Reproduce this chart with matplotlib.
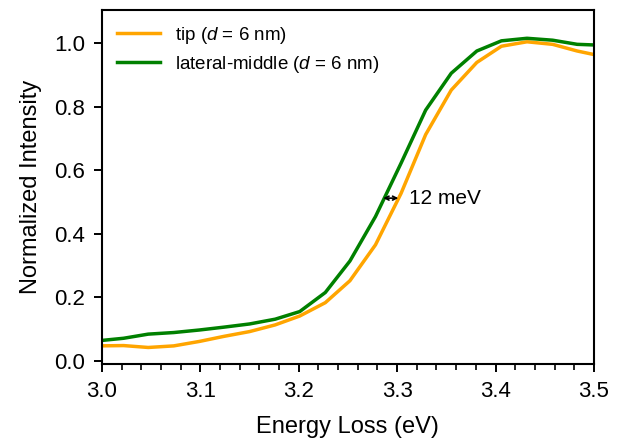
import matplotlib
matplotlib.use("Agg")
import matplotlib.pyplot as plt
from matplotlib.ticker import MultipleLocator

plt.rcParams['font.family'] = ['Liberation Sans', 'DejaVu Sans']
plt.rcParams['mathtext.fontset'] = 'custom'
plt.rcParams['mathtext.it'] = 'Liberation Sans:italic'
plt.rcParams['mathtext.rm'] = 'Liberation Sans'

energy = [2.996, 3.022, 3.047, 3.073, 3.099, 3.124, 3.150, 3.176, 3.201, 3.227, 3.252,
          3.278, 3.304, 3.329, 3.355, 3.381, 3.406, 3.432, 3.458, 3.483, 3.509]
tip = [0.047, 0.048, 0.042, 0.047, 0.061, 0.077, 0.092, 0.113, 0.141, 0.183, 0.252,
       0.365, 0.527, 0.712, 0.852, 0.939, 0.990, 1.004, 0.996, 0.975, 0.958]
lateral = [0.063, 0.071, 0.084, 0.089, 0.097, 0.106, 0.116, 0.131, 0.155, 0.215, 0.314,
           0.454, 0.622, 0.789, 0.905, 0.975, 1.007, 1.015, 1.009, 0.996, 0.993]

fig = plt.figure(figsize=(6.18, 4.41), dpi=100)
ax = fig.add_axes([0.165, 0.1746, 0.796, 0.8027])
ax.plot(energy, tip, color='#FFA500', lw=2.5, label=r'tip ($d$ = 6 nm)')
ax.plot(energy, lateral, color='#008000', lw=2.5, label=r'lateral-middle ($d$ = 6 nm)')

ax.annotate('', xy=(3.2859, 0.512), xytext=(3.3012, 0.512),
            arrowprops=dict(arrowstyle='<->', color='black', lw=1.2,
                            shrinkA=0, shrinkB=0, mutation_scale=7))
ax.text(3.3125, 0.512, '12 meV', fontsize=15, va='center', ha='left')

ax.set_xlim(3.0, 3.5)
ax.set_ylim(-0.01, 1.104)
ax.xaxis.set_major_locator(MultipleLocator(0.1))
ax.xaxis.set_minor_locator(MultipleLocator(0.02))
ax.yaxis.set_major_locator(MultipleLocator(0.2))
ax.tick_params(axis='both', which='major', labelsize=16, length=6, width=1.4, pad=6)
ax.tick_params(axis='x', which='minor', length=4, width=1.2)
for s in ax.spines.values():
    s.set_linewidth(1.5)
ax.set_xlabel('Energy Loss (eV)', fontsize=17, labelpad=10)
ax.set_ylabel('Normalized Intensity', fontsize=17, labelpad=9)
ax.legend(loc='upper left', frameon=False, fontsize=13.5, handlelength=2.3,
          borderaxespad=0.4, labelspacing=0.4)
fig.savefig('out.png', dpi=100)
